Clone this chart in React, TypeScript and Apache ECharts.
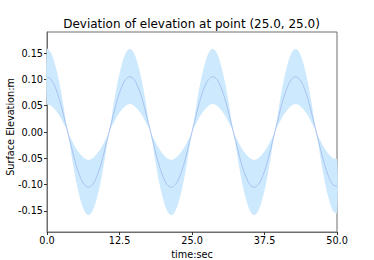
import React, { useEffect, useRef } from "react";
import * as echarts from "echarts";

const titleText = "Deviation of elevation at point (25.0, 25.0)";
const xName = "time:sec";
const yName = "Surface Elevation:m";
const xTicks = [0, 12.5, 25, 37.5, 50];
const yTicks = [-0.15, -0.1, -0.05, 0, 0.05, 0.1, 0.15];

const time = [
  0.0, 0.71, 1.43, 2.14, 2.86, 3.57, 4.29, 5.0, 5.71, 6.43,
  7.14, 7.86, 8.57, 9.29, 10.0, 10.71, 11.43, 12.14, 12.86, 13.57,
  14.29, 15.0, 15.71, 16.43, 17.14, 17.86, 18.57, 19.29, 20.0, 20.71,
  21.43, 22.14, 22.86, 23.57, 24.29, 25.0, 25.71, 26.43, 27.14, 27.86,
  28.57, 29.29, 30.0, 30.71, 31.43, 32.14, 32.86, 33.57, 34.29, 35.0,
  35.71, 36.43, 37.14, 37.86, 38.57, 39.29, 40.0, 40.71, 41.43, 42.14,
  42.86, 43.57, 44.29, 45.0, 45.71, 46.43, 47.14, 47.86, 48.57, 49.29,
  50.0,
];

const elevation = [
  0.105, 0.1, 0.085, 0.062, 0.032, 0.0, -0.032, -0.062, -0.085, -0.1,
  -0.105, -0.1, -0.085, -0.062, -0.032, 0.0, 0.032, 0.062, 0.085, 0.1,
  0.105, 0.1, 0.085, 0.062, 0.032, 0.0, -0.032, -0.062, -0.085, -0.1,
  -0.105, -0.1, -0.085, -0.062, -0.032, 0.0, 0.032, 0.062, 0.085, 0.1,
  0.105, 0.1, 0.085, 0.062, 0.032, 0.0, -0.032, -0.062, -0.085, -0.1,
  -0.105, -0.1, -0.085, -0.062, -0.032, 0.0, 0.032, 0.062, 0.085, 0.1,
  0.105, 0.1, 0.085, 0.062, 0.032, 0.0, -0.032, -0.062, -0.085, -0.1,
  -0.103,
];

const bandLow = [
  0.053, 0.05, 0.042, 0.031, 0.016, 0.0, -0.049, -0.093, -0.127, -0.15,
  -0.158, -0.15, -0.127, -0.093, -0.049, 0.0, 0.016, 0.031, 0.042, 0.05,
  0.053, 0.05, 0.042, 0.031, 0.016, 0.0, -0.049, -0.093, -0.127, -0.15,
  -0.158, -0.15, -0.127, -0.093, -0.049, 0.0, 0.016, 0.031, 0.042, 0.05,
  0.053, 0.05, 0.042, 0.031, 0.016, 0.0, -0.049, -0.093, -0.127, -0.15,
  -0.158, -0.15, -0.127, -0.093, -0.049, 0.0, 0.016, 0.031, 0.042, 0.05,
  0.053, 0.05, 0.042, 0.031, 0.016, 0.0, -0.049, -0.093, -0.127, -0.15,
  -0.154,
];

const bandHigh = [
  0.158, 0.15, 0.127, 0.093, 0.049, 0.0, -0.016, -0.031, -0.042, -0.05,
  -0.053, -0.05, -0.042, -0.031, -0.016, 0.0, 0.049, 0.093, 0.127, 0.15,
  0.158, 0.15, 0.127, 0.093, 0.049, 0.0, -0.016, -0.031, -0.042, -0.05,
  -0.053, -0.05, -0.042, -0.031, -0.016, 0.0, 0.049, 0.093, 0.127, 0.15,
  0.158, 0.15, 0.127, 0.093, 0.049, 0.0, -0.016, -0.031, -0.042, -0.05,
  -0.053, -0.05, -0.042, -0.031, -0.016, 0.0, 0.049, 0.093, 0.127, 0.15,
  0.158, 0.15, 0.127, 0.093, 0.049, 0.0, -0.016, -0.031, -0.042, -0.05,
  -0.052,
];

const FONT = "DejaVu Sans";

export default function App() {
  const ref = useRef<HTMLDivElement>(null);
  useEffect(() => {
    if (!ref.current) return;
    const chart = echarts.init(ref.current, undefined, { renderer: "svg" });
    const meanData = time.map((t, i) => [t, elevation[i]]);
    chart.setOption({
      animation: false,
      backgroundColor: "#ffffff",
      title: {
        text: titleText,
        left: 191.5,
        textAlign: "center",
        top: 18,
        padding: 0,
        textStyle: { fontFamily: FONT, fontSize: 12, fontWeight: "normal", color: "#000" },
      },
      grid: {
        left: 47,
        right: 37,
        top: 32,
        bottom: 28,
        containLabel: false,
        outerBoundsMode: "none",
        show: true,
        borderColor: "#6e6e6e",
        borderWidth: 1,
        backgroundColor: "transparent",
      },
      xAxis: {
        type: "value",
        min: 0,
        max: 50,
        name: xName,
        nameLocation: "middle",
        nameGap: 17,
        nameMoveOverlap: false,
        nameTextStyle: { fontFamily: FONT, fontSize: 9.7, color: "#000" },
        axisLine: { show: true, onZero: false, lineStyle: { color: "#6e6e6e", width: 1 } },
        axisTick: { show: true, length: 3, customValues: xTicks, lineStyle: { color: "#333" } },
        axisLabel: {
          margin: 3,
          fontFamily: FONT,
          fontSize: 9.7,
          color: "#000",
          customValues: xTicks,
          formatter: (v: number) => v.toFixed(1),
        },
        splitLine: { show: false },
      },
      yAxis: {
        type: "value",
        min: -0.19,
        max: 0.19,
        name: yName,
        nameLocation: "middle",
        nameGap: 32,
        nameMoveOverlap: false,
        nameTextStyle: { fontFamily: FONT, fontSize: 9.7, color: "#000", padding: [0, 0, 0, 10] },
        axisLine: { show: true, onZero: false, lineStyle: { color: "#6e6e6e", width: 1 } },
        axisTick: { show: true, length: 3, customValues: yTicks, lineStyle: { color: "#333" } },
        axisLabel: {
          margin: 4,
          fontFamily: FONT,
          fontSize: 9.7,
          color: "#000",
          customValues: yTicks,
          formatter: (v: number) => v.toFixed(2),
        },
        splitLine: { show: false },
      },
      series: [
        {
          type: "custom",
          data: [0],
          silent: true,
          renderItem: (_params: any, api: any) => {
            const pts: number[][] = [];
            for (let i = 0; i < time.length; i++) pts.push(api.coord([time[i], bandHigh[i]]));
            for (let i = time.length - 1; i >= 0; i--) pts.push(api.coord([time[i], bandLow[i]]));
            return {
              type: "polygon",
              shape: { points: pts, smooth: 0.3 },
              style: { fill: "#cde9fd", stroke: "none" },
            };
          },
        },
        {
          type: "line",
          data: meanData,
          symbol: "none",
          smooth: 0.35,
          lineStyle: { color: "#a9c3f2", width: 1 },
        },
      ],
    });
    return () => chart.dispose();
  }, []);
  return (
    <div
      ref={ref}
      style={{ position: "fixed", left: 0, top: 0, width: 374, height: 260 }}
    />
  );
}
